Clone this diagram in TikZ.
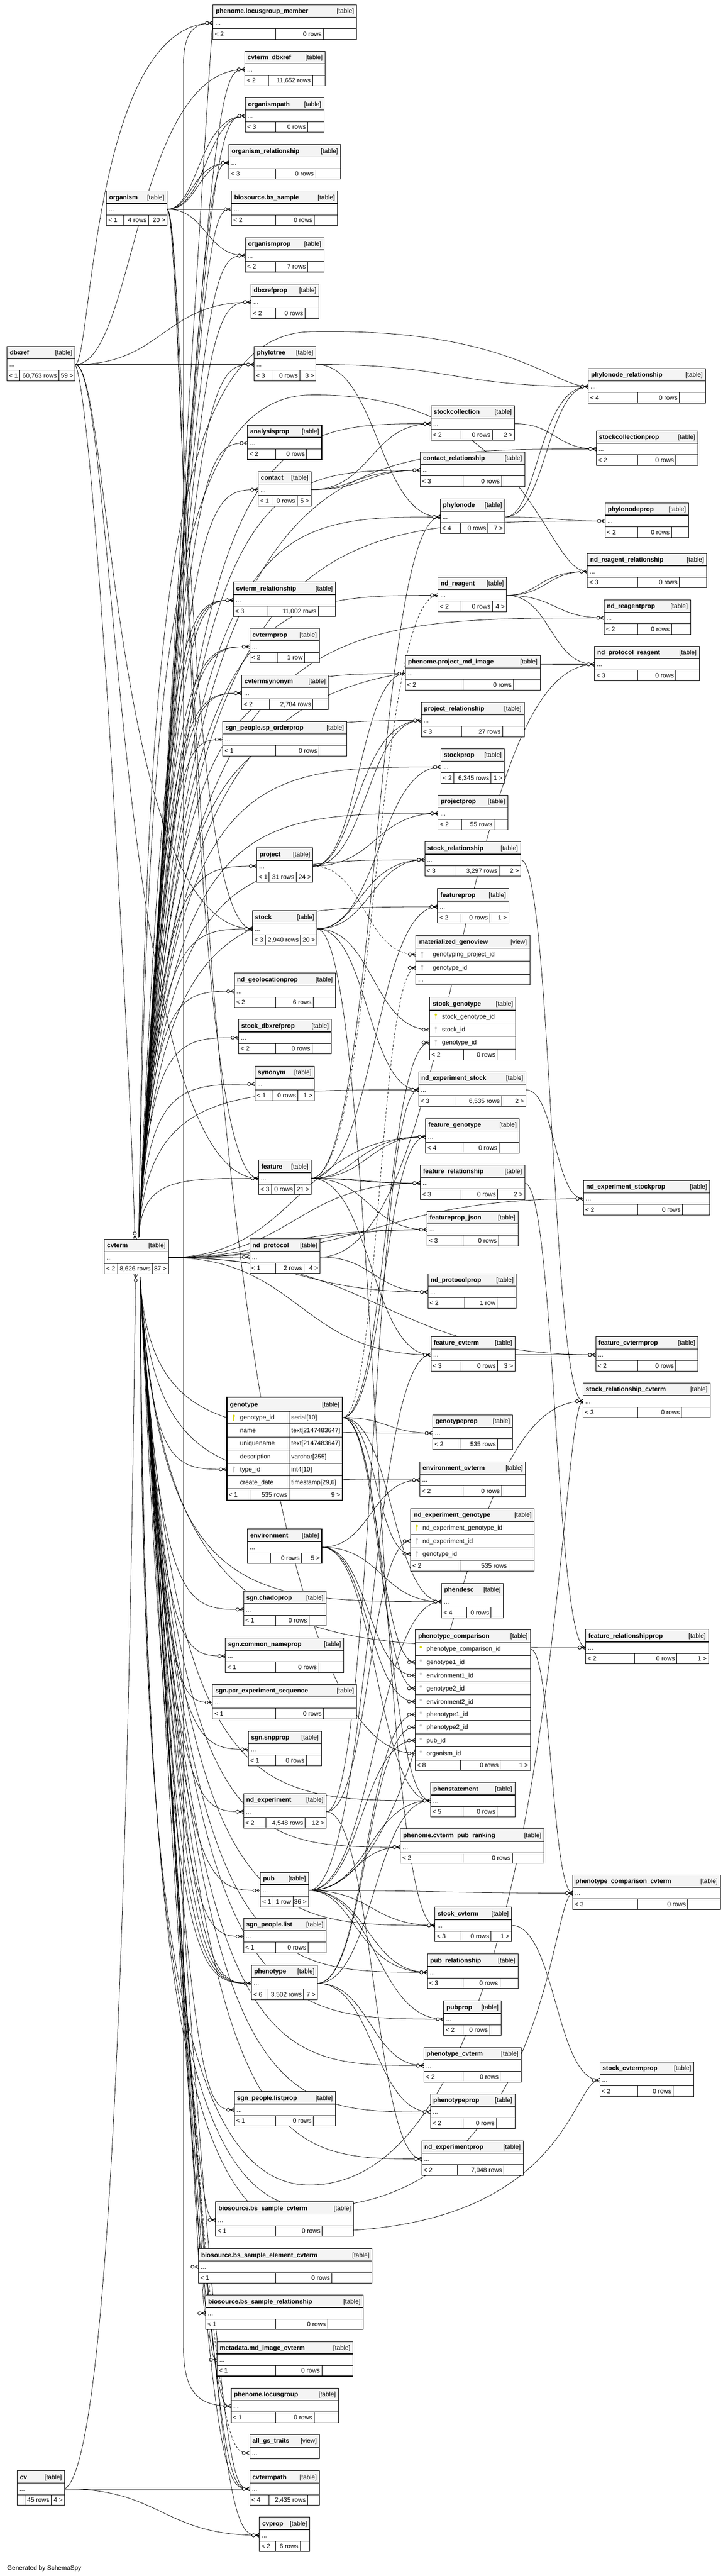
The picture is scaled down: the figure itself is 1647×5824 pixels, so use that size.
\documentclass[tikz,border=0pt]{standalone}
\usepackage{fontspec}
\setmainfont{Liberation Sans}
\usetikzlibrary{calc}
\pgfdeclarelayer{bgl}
\pgfdeclarelayer{edg}
\pgfsetlayers{bgl,edg,main}
\definecolor{hdrgray}{HTML}{F4F4F4}
\definecolor{pkey}{HTML}{D8D800}
\definecolor{fkey}{HTML}{C4C4C4}
\tikzset{
  fkline/.style={line width=0.9pt},
  fkdash/.style={line width=0.9pt,dash pattern=on 5pt off 4pt},
  mk/.style={line width=1pt},
  crowfoot/.pic={\draw[mk] (-18,0)--(0,0) (-9,0)--(0,-4.5) (-9,0)--(0,4.5); \draw[mk,fill=white] (-13.5,0) circle (3.6);},
  tbox/.style={fill=white,inner sep=0pt,outer sep=0pt},
  ttl/.style={font=\bfseries\fontsize{14.3}{16}\selectfont,inner sep=0pt},
  txt/.style={font=\fontsize{14.3}{16}\selectfont,inner sep=0pt},
  hline/.style={line width=1.6pt},
  rline/.style={line width=1pt},
  bline/.style={line width=1.2pt},
}
\newcommand\tbl[6]{%
  \def\tid{#1}\def\tx{#2}\def\ty{#3}\def\tw{#4}%
  \node[tbox,minimum width=#4pt,minimum height=78pt,anchor=north west] (#1) at (#2,#3) {};
  \fill[hdrgray] (#2,#3) rectangle ++(#4,28);
  \draw[hline] (#2,#3+28) -- ++(#4,0);
  \draw[rline] (#2,#3+54) -- ++(#4,0);
  \draw[bline] (#2,#3) rectangle ++(#4,78);
  \node[ttl,anchor=base west] (#1-t) at (#2+6,#3+19) {#5};
  \node[txt,anchor=base east] (#1-k) at (#2+#4-6,#3+19) {[#6]};
  \node[txt,anchor=base west] (#1-d) at (#2+5,#3+46) {...};
  \coordinate (#1-in) at (#2,#3+41);
  \coordinate (#1-out) at (#2+#4,#3+41);
}
\newcommand\foot[5]{%
  \draw[rline] (#4,\ty+54) -- (#4,\ty+78);
  \draw[rline] (#5,\ty+54) -- (#5,\ty+78);
  \node[txt,anchor=base west] (\tid-fl) at (\tx+4,\ty+71) {#1};
  \node[txt,anchor=base east] (\tid-fm) at (#5-4,\ty+71) {#2};
  \node[txt,anchor=base east] (\tid-fr) at (\tx+\tw-4,\ty+71) {#3};
}
\newcommand\key[3]{\fill[#3] (#1,#2-4) circle (2.6); \draw[#3,line width=1.7pt] (#1,#2-2) -- (#1,#2+7);}
\newcommand\fk[3][0.5]{\draw[fkline] (#2) .. controls ($(#2)!#1!(#3 |- #2)$) and ($(#2 |- #3)!#1!(#3)$) .. (#3); \pic at (#3) {crowfoot};}
\newcommand\fkd[3][0.5]{\draw[fkdash] (#2) .. controls ($(#2)!#1!(#3 |- #2)$) and ($(#2 |- #3)!#1!(#3)$) .. (#3); \pic at (#3) {crowfoot};}
\newcommand\fkn[2]{\coordinate (fkq) at ($(cvt-n |- #1)+(#2,0)$); \draw[fkline] (cvt-n) .. controls (fkq) and ($(fkq)!0.3!(#1)$) .. (#1); \pic at (#1) {crowfoot};}
\newcommand\fks[2]{\coordinate (fkq) at ($(cvt-s |- #1)+(#2,0)$); \draw[fkline] (cvt-s) .. controls (fkq) and ($(fkq)!0.3!(#1)$) .. (#1); \pic at (#1) {crowfoot};}
\newcommand\fksd[2]{\coordinate (fkq) at ($(cvt-s |- #1)+(#2,0)$); \draw[fkdash] (cvt-s) .. controls (fkq) and ($(fkq)!0.3!(#1)$) .. (#1); \pic at (#1) {crowfoot};}
\begin{document}
\begin{tikzpicture}[x=1pt,y=-1pt]
\begin{pgfonlayer}{bgl}
\fill[white] (0,0) rectangle (1647,5824);
\end{pgfonlayer}
\useasboundingbox (0,0) rectangle (1647,5824);

\tbl{plm}{482}{11}{325}{phenome.locusgroup\_member}{table}\foot{< 2}{0 rows}{}{624}{732}
\tbl{cvdbx}{554}{116}{182}{cvterm\_dbxref}{table}\foot{< 2}{11,652 rows}{}{607}{707}
\tbl{opath}{555}{221}{178}{organismpath}{table}\foot{< 3}{0 rows}{}{624}{696}
\tbl{orel}{518}{327}{253}{organism\_relationship}{table}\foot{< 3}{0 rows}{}{624}{714}
\tbl{org}{241}{432}{137}{organism}{table}\foot{< 1}{4 rows}{20 >}{279}{336}
\tbl{bss}{524}{432}{240}{biosource.bs\_sample}{table}\foot{< 2}{0 rows}{}{624}{711}
\tbl{oprop}{555}{537}{178}{organismprop}{table}\foot{< 2}{7 rows}{}{624}{696}
\tbl{dbxp}{568}{642}{154}{dbxrefprop}{table}\foot{< 2}{0 rows}{}{624}{690}
\tbl{dbx}{16}{783}{154}{dbxref}{table}\foot{< 1}{60,763 rows}{59 >}{45}{133}
\tbl{ptree}{575}{783}{140}{phylotree}{table}\foot{< 3}{0 rows}{3 >}{618}{678}
\tbl{pnrel}{1331}{833}{265}{phylonode\_relationship}{table}\foot{< 4}{0 rows}{}{1443}{1537}
\tbl{scol}{975}{917}{189}{stockcollection}{table}\foot{< 2}{0 rows}{2 >}{1043}{1114}
\tbl{anp}{560}{961}{168}{analysisprop}{table}\foot{< 2}{0 rows}{}{624}{694}
\tbl{scolp}{1349}{974}{230}{stockcollectionprop}{table}\foot{< 2}{0 rows}{}{1443}{1529}
\tbl{crel}{951}{1022}{236}{contact\_relationship}{table}\foot{< 3}{0 rows}{}{1048}{1135}
\tbl{cont}{584}{1066}{120}{contact}{table}\foot{< 1}{0 rows}{5 >}{618}{672}
\tbl{pnode}{996}{1128}{146}{phylonode}{table}\foot{< 4}{0 rows}{7 >}{1042}{1104}
\tbl{pnp}{1369}{1137}{189}{phylonodeprop}{table}\foot{< 2}{0 rows}{}{1443}{1519}
\tbl{nrrel}{1329}{1251}{270}{nd\_reagent\_relationship}{table}\foot{< 3}{0 rows}{}{1443}{1537}
\tbl{nrea}{991}{1305}{155}{nd\_reagent}{table}\foot{< 2}{0 rows}{4 >}{1043}{1114}
\tbl{cvrel}{528}{1316}{231}{cvterm\_relationship}{table}\foot{< 3}{11,002 rows}{}{606}{720}
\tbl{nrp}{1367}{1356}{195}{nd\_reagentprop}{table}\foot{< 2}{0 rows}{}{1443}{1519}
\tbl{cvp}{565}{1421}{158}{cvtermprop}{table}\foot{< 2}{1 row}{}{627}{689}
\tbl{npr}{1345}{1461}{237}{nd\_protocol\_reagent}{table}\foot{< 3}{0 rows}{}{1443}{1529}
\tbl{pmi}{917}{1482}{305}{phenome.project\_md\_image}{table}\foot{< 2}{0 rows}{}{1048}{1162}
\tbl{cvsyn}{547}{1526}{196}{cvtermsynonym}{table}\foot{< 2}{2,784 rows}{}{610}{708}
\tbl{prel}{953}{1588}{233}{project\_relationship}{table}\foot{< 3}{27 rows}{}{1044}{1137}
\tbl{spo}{504}{1631}{280}{sgn\_people.sp\_orderprop}{table}\foot{< 1}{0 rows}{}{624}{722}
\tbl{stp}{998}{1693}{143}{stockprop}{table}\foot{< 2}{6,345 rows}{1 >}{1027}{1111}
\tbl{pjp}{991}{1798}{158}{projectprop}{table}\foot{< 2}{55 rows}{}{1044}{1118}
\tbl{strel}{961}{1903}{217}{stock\_relationship}{table}\foot{< 3}{3,297 rows}{2 >}{1029}{1129}
\tbl{proj}{581}{1917}{127}{project}{table}\foot{< 1}{31 rows}{24 >}{609}{670}
\tbl{fp}{990}{2009}{161}{featureprop}{table}\foot{< 2}{0 rows}{1 >}{1043}{1108}
\tbl{stock}{571}{2059}{146}{stock}{table}\foot{< 3}{2,940 rows}{20 >}{600}{680}
\tbl{ngp}{530}{2200}{229}{nd\_geolocationprop}{table}\foot{< 2}{6 rows}{}{624}{709}
\tbl{sdp}{540}{2305}{210}{stock\_dbxrefprop}{table}\foot{< 2}{0 rows}{}{624}{706}
\tbl{syn}{577}{2410}{134}{synonym}{table}\foot{< 1}{0 rows}{1 >}{616}{674}
\tbl{nes}{947}{2423}{243}{nd\_experiment\_stock}{table}\foot{< 3}{6,535 rows}{2 >}{1029}{1135}
\tbl{fg}{963}{2529}{212}{feature\_genotype}{table}\foot{< 4}{0 rows}{}{1048}{1129}
\tbl{feat}{585}{2623}{119}{feature}{table}\foot{< 3}{0 rows}{21 >}{614}{667}
\tbl{frel}{951}{2634}{236}{feature\_relationship}{table}\foot{< 3}{0 rows}{2 >}{1043}{1126}
\tbl{nesp}{1320}{2669}{286}{nd\_experiment\_stockprop}{table}\foot{< 2}{0 rows}{}{1443}{1544}
\tbl{fpj}{966}{2739}{206}{featureprop\_json}{table}\foot{< 3}{0 rows}{}{1048}{1128}
\tbl{cvt}{236}{2802}{145}{cvterm}{table}\foot{< 2}{8,626 rows}{87 >}{266}{345}
\tbl{nprot}{565}{2801}{159}{nd\_protocol}{table}\foot{< 1}{2 rows}{4 >}{624}{688}
\tbl{npp}{968}{2880}{200}{nd\_protocolprop}{table}\foot{< 2}{1 row}{}{1051}{1125}
\tbl{fcv}{975}{3022}{190}{feature\_cvterm}{table}\foot{< 3}{0 rows}{3 >}{1043}{1126}
\tbl{fcvp}{1348}{3022}{231}{feature\_cvtermprop}{table}\foot{< 2}{0 rows}{}{1443}{1529}
\tbl{srcv}{1319}{3127}{288}{stock\_relationship\_cvterm}{table}\foot{< 3}{0 rows}{}{1443}{1542}
\tbl{gp}{979}{3199}{181}{genotypeprop}{table}\foot{< 2}{535 rows}{}{1041}{1126}
\tbl{envcv}{950}{3305}{239}{environment\_cvterm}{table}\foot{< 2}{0 rows}{}{1048}{1135}
\tbl{env}{560}{3457}{168}{environment}{table}\foot{}{0 rows}{5 >}{612}{682}
\tbl{pdesc}{999}{3580}{140}{phendesc}{table}\foot{< 4}{0 rows}{}{1056}{1111}
\tbl{scp}{551}{3598}{187}{sgn.chadoprop}{table}\foot{< 1}{0 rows}{}{624}{699}
\tbl{frp}{1325}{3684}{278}{feature\_relationshipprop}{table}\foot{< 2}{0 rows}{1 >}{1436}{1531}
\tbl{scnp}{510}{3703}{268}{sgn.common\_nameprop}{table}\foot{< 1}{0 rows}{}{624}{721}
\tbl{spcr}{481}{3808}{326}{sgn.pcr\_experiment\_sequence}{table}\foot{< 1}{0 rows}{}{624}{732}
\tbl{ssnp}{562}{3914}{165}{sgn.snpprop}{table}\foot{< 1}{0 rows}{}{624}{693}
\tbl{pst}{974}{4030}{191}{phenstatement}{table}\foot{< 5}{0 rows}{}{1048}{1125}
\tbl{nexp}{551}{4055}{187}{nd\_experiment}{table}\foot{< 2}{4,548 rows}{12 >}{601}{690}
\tbl{pcpr}{906}{4135}{325}{phenome.cvterm\_pub\_ranking}{table}\foot{< 2}{0 rows}{}{1048}{1159}
\tbl{pub}{589}{4233}{109}{pub}{table}\foot{< 1}{1 row}{36 >}{618}{663}
\tbl{pccv}{1296}{4239}{334}{phenotype\_comparison\_cvterm}{table}\foot{< 3}{0 rows}{}{1443}{1556}
\tbl{stcv}{984}{4312}{173}{stock\_cvterm}{table}\foot{< 3}{0 rows}{1 >}{1043}{1111}
\tbl{spl}{551}{4337}{187}{sgn\_people.list}{table}\foot{< 1}{0 rows}{}{624}{697}
\tbl{pubrel}{967}{4418}{205}{pub\_relationship}{table}\foot{< 3}{0 rows}{}{1048}{1131}
\tbl{ptype}{569}{4443}{149}{phenotype}{table}\foot{< 6}{3,502 rows}{7 >}{604}{687}
\tbl{pubp}{1004}{4524}{130}{pubprop}{table}\foot{< 2}{0 rows}{}{1048}{1108}
\tbl{ptcv}{959}{4629}{220}{phenotype\_cvterm}{table}\foot{< 2}{0 rows}{}{1048}{1132}
\tbl{stcvp}{1357}{4662}{213}{stock\_cvtermprop}{table}\foot{< 2}{0 rows}{}{1443}{1523}
\tbl{splp}{530}{4729}{229}{sgn\_people.listprop}{table}\foot{< 1}{0 rows}{}{624}{709}
\tbl{ptp}{974}{4734}{191}{phenotypeprop}{table}\foot{< 2}{0 rows}{}{1048}{1123}
\tbl{nexpp}{954}{4840}{230}{nd\_experimentprop}{table}\foot{< 2}{7,048 rows}{}{1035}{1140}
\tbl{bsscv}{488}{4978}{312}{biosource.bs\_sample\_cvterm}{table}\foot{< 1}{0 rows}{}{624}{729}
\tbl{bsecv}{449}{5084}{393}{biosource.bs\_sample\_element\_cvterm}{table}\foot{< 1}{0 rows}{}{624}{751}
\tbl{bsrel}{465}{5189}{357}{biosource.bs\_sample\_relationship}{table}\foot{< 1}{0 rows}{}{624}{741}
\tbl{mdcv}{491}{5294}{308}{metadata.md\_image\_cvterm}{table}\foot{< 1}{0 rows}{}{624}{728}
\tbl{plg}{523}{5399}{243}{phenome.locusgroup}{table}\foot{< 1}{0 rows}{}{624}{711}
\tbl{cv}{39}{5586}{107}{cv}{table}\foot{}{45 rows}{4 >}{56}{116}
\tbl{cvpath}{565}{5586}{158}{cvtermpath}{table}\foot{< 4}{2,435 rows}{}{609}{696}
\tbl{cvpr}{587}{5691}{114}{cvprop}{table}\foot{< 2}{6 rows}{}{624}{679}

% all_gs_traits (view)
\node[tbox,minimum width=158pt,minimum height=55pt,anchor=north west] (ags) at (565,5504) {};
\fill[hdrgray] (565,5504) rectangle ++(158,29);
\draw[hline] (565,5533) -- ++(158,0);
\draw[bline] (565,5504) rectangle ++(158,55);
\node[ttl,anchor=base west] (ags-t) at (571,5523) {all\_gs\_traits};
\node[txt,anchor=base east] (ags-k) at (717,5523) {[view]};
\node[txt,anchor=base west] (ags-d) at (570,5551) {...};
\coordinate (ags-in) at (565,5546);

% materialized_genoview (view)
\node[tbox,minimum width=258pt,minimum height=112pt,anchor=north west] (mgv) at (941,2115) {};
\fill[hdrgray] (941,2115) rectangle ++(258,29);
\draw[hline] (941,2144) -- ++(258,0);
\draw[rline] (941,2173) -- ++(258,0) (941,2203) -- ++(258,0);
\draw[bline] (941,2115) rectangle ++(258,112);
\node[ttl,anchor=base west] (mgv-t) at (948,2134) {materialized\_genoview};
\node[txt,anchor=base east] (mgv-k) at (1192,2134) {[view]};
\key{955}{2158}{fkey}\node[txt,anchor=base west] (mgv-c1) at (979,2163) {genotyping\_project\_id};
\key{955}{2188}{fkey}\node[txt,anchor=base west] (mgv-c2) at (979,2193) {genotype\_id};
\node[txt,anchor=base west] (mgv-d) at (946,2220) {...};
\coordinate (mgv-r1) at (941,2158); \coordinate (mgv-r2) at (941,2188);

% stock_genotype
\node[tbox,minimum width=195pt,minimum height=142pt,anchor=north west] (sgt) at (972,2254) {};
\fill[hdrgray] (972,2254) rectangle ++(195,30);
\draw[hline] (972,2284) -- ++(195,0);
\draw[rline] (972,2313) -- ++(195,0) (972,2343) -- ++(195,0) (972,2372) -- ++(195,0);
\draw[rline] (1049,2372) -- (1049,2396) (1125,2372) -- (1125,2396);
\draw[bline] (972,2254) rectangle ++(195,142);
\node[ttl,anchor=base west] (sgt-t) at (979,2274) {stock\_genotype};
\node[txt,anchor=base east] (sgt-k) at (1161,2274) {[table]};
\key{986}{2298}{pkey}\node[txt,anchor=base west] (sgt-c1) at (1000,2303) {stock\_genotype\_id};
\key{986}{2328}{fkey}\node[txt,anchor=base west] (sgt-c2) at (1000,2333) {stock\_id};
\key{986}{2357}{fkey}\node[txt,anchor=base west] (sgt-c3) at (1000,2362) {genotype\_id};
\node[txt,anchor=base west] (sgt-fl) at (976,2389) {< 2};
\node[txt,anchor=base east] (sgt-fm) at (1121,2389) {0 rows};
\coordinate (sgt-r2) at (972,2328); \coordinate (sgt-r3) at (972,2357);

% genotype
\node[tbox,minimum width=262pt,minimum height=233pt,anchor=north west] (geno) at (513,3159) {};
\fill[hdrgray] (513,3159) rectangle ++(262,32);
\draw[hline] (513,3191) -- ++(262,0);
\foreach \yy in {3219,3249,3278,3308,3337,3366} {\draw[rline] (513,\yy) -- ++(262,0);}
\draw[rline] (654,3191) -- (654,3392) (565,3366) -- (565,3392);
\draw[line width=2.6pt] (513,3159) rectangle ++(262,233);
\node[ttl,anchor=base west] (geno-t) at (520,3180) {genotype};
\node[txt,anchor=base east] (geno-k) at (768,3180) {[table]};
\key{529}{3205}{pkey}
\node[txt,anchor=base west] (geno-c1) at (543,3210) {genotype\_id};
\node[txt,anchor=base west] (geno-y1) at (659,3210) {serial[10]};
\node[txt,anchor=base west] (geno-c2) at (543,3239) {name};
\node[txt,anchor=base west] (geno-y2) at (659,3239) {text[2147483647]};
\node[txt,anchor=base west] (geno-c3) at (543,3268) {uniquename};
\node[txt,anchor=base west] (geno-y3) at (659,3268) {text[2147483647]};
\node[txt,anchor=base west] (geno-c4) at (543,3298) {description};
\node[txt,anchor=base west] (geno-y4) at (659,3298) {varchar[255]};
\key{529}{3322}{fkey}
\node[txt,anchor=base west] (geno-c5) at (543,3327) {type\_id};
\node[txt,anchor=base west] (geno-y5) at (659,3327) {int4[10]};
\node[txt,anchor=base west] (geno-c6) at (543,3356) {create\_date};
\node[txt,anchor=base west] (geno-y6) at (659,3356) {timestamp[29,6]};
\node[txt,anchor=base west] (geno-fl) at (517,3384) {< 1};
\node[txt,anchor=base east] (geno-fm) at (650,3384) {535 rows};
\node[txt,anchor=base east] (geno-fr) at (770,3384) {9 >};
\coordinate (geno-out) at (775,3205); \coordinate (geno-tin) at (513,3322);

% nd_experiment_genotype
\node[tbox,minimum width=280pt,minimum height=141pt,anchor=north west] (neg) at (929,3411) {};
\fill[hdrgray] (929,3411) rectangle ++(280,29);
\draw[hline] (929,3440) -- ++(280,0);
\draw[rline] (929,3469) -- ++(280,0) (929,3499) -- ++(280,0) (929,3528) -- ++(280,0);
\draw[rline] (1041,3528) -- (1041,3552) (1151,3528) -- (1151,3552);
\draw[bline] (929,3411) rectangle ++(280,141);
\node[ttl,anchor=base west] (neg-t) at (936,3430) {nd\_experiment\_genotype};
\node[txt,anchor=base east] (neg-k) at (1203,3430) {[table]};
\key{943}{3454}{pkey}\node[txt,anchor=base west] (neg-c1) at (956,3459) {nd\_experiment\_genotype\_id};
\key{943}{3484}{fkey}\node[txt,anchor=base west] (neg-c2) at (956,3489) {nd\_experiment\_id};
\key{943}{3513}{fkey}\node[txt,anchor=base west] (neg-c3) at (956,3518) {genotype\_id};
\node[txt,anchor=base west] (neg-fl) at (933,3545) {< 2};
\node[txt,anchor=base east] (neg-fm) at (1147,3545) {535 rows};
\coordinate (neg-r2) at (929,3484); \coordinate (neg-r3) at (929,3513);

% phenotype_comparison
\node[tbox,minimum width=261pt,minimum height=318pt,anchor=north west] (pcmp) at (939,3685) {};
\fill[hdrgray] (939,3685) rectangle ++(261,29);
\draw[hline] (939,3714) -- ++(261,0);
\foreach \yy in {3743,3773,3802,3832,3861,3890,3920,3949,3979} {\draw[rline] (939,\yy) -- ++(261,0);}
\draw[rline] (1042,3979) -- (1042,4003) (1132,3979) -- (1132,4003);
\draw[bline] (939,3685) rectangle ++(261,318);
\node[ttl,anchor=base west] (pcmp-t) at (946,3704) {phenotype\_comparison};
\node[txt,anchor=base east] (pcmp-k) at (1194,3704) {[table]};
\key{952}{3728}{pkey}\node[txt,anchor=base west] (pcmp-c1) at (965,3733) {phenotype\_comparison\_id};
\key{952}{3758}{fkey}\node[txt,anchor=base west] (pcmp-c2) at (965,3763) {genotype1\_id};
\key{952}{3788}{fkey}\node[txt,anchor=base west] (pcmp-c3) at (965,3793) {environment1\_id};
\key{952}{3817}{fkey}\node[txt,anchor=base west] (pcmp-c4) at (965,3822) {genotype2\_id};
\key{952}{3847}{fkey}\node[txt,anchor=base west] (pcmp-c5) at (965,3852) {environment2\_id};
\key{952}{3876}{fkey}\node[txt,anchor=base west] (pcmp-c6) at (965,3881) {phenotype1\_id};
\key{952}{3905}{fkey}\node[txt,anchor=base west] (pcmp-c7) at (965,3910) {phenotype2\_id};
\key{952}{3935}{fkey}\node[txt,anchor=base west] (pcmp-c8) at (965,3940) {pub\_id};
\key{952}{3964}{fkey}\node[txt,anchor=base west] (pcmp-c9) at (965,3969) {organism\_id};
\node[txt,anchor=base west] (pcmp-fl) at (943,3996) {< 8};
\node[txt,anchor=base east] (pcmp-fm) at (1128,3996) {0 rows};
\node[txt,anchor=base east] (pcmp-fr) at (1195,3996) {1 >};
\coordinate (pcmp-out) at (1200,3728);
\coordinate (pcmp-g1) at (939,3758); \coordinate (pcmp-e1) at (939,3788);
\coordinate (pcmp-g2) at (939,3817); \coordinate (pcmp-e2) at (939,3847);
\coordinate (pcmp-p1) at (939,3876); \coordinate (pcmp-p2) at (939,3905);
\coordinate (pcmp-pub) at (939,3935); \coordinate (pcmp-org) at (939,3964);

\node[txt,anchor=base west] (gen) at (16,5810) {Generated by SchemaSpy};

\coordinate (cvt-n) at (314,2797);
\coordinate (cvt-s) at (317,2887);
\coordinate (cvt-top) at (305,2802);
\coordinate (cvt-bot) at (307,2881);

\begin{pgfonlayer}{edg}
% dbxref
\fk[0.12]{dbx-out}{plm-in}
\fk[0.35]{dbx-out}{cvdbx-in}
\fk{dbx-out}{dbxp-in}
\fk{dbx-out}{ptree-in}
\fk[0.2]{dbx-out}{stock-in}
\fk[0.22]{dbx-out}{feat-in}
\draw[fkline] (dbx-out) .. controls (215,900) and (300,2500) .. (cvt-top); \pic[rotate=-90] at (cvt-top) {crowfoot};
% organism
\fk{org-out}{opath-in}
\fk[0.4]{org-out}{opath-in}
\fk{org-out}{orel-in}
\fk[0.4]{org-out}{orel-in}
\fk{org-out}{bss-in}
\fk{org-out}{oprop-in}
\fk[0.2]{org-out}{stock-in}
\fk[0.2]{org-out}{feat-in}
\fk[0.08]{org-out}{pcmp-org}
% cvterm upward
\fkn{plm-in}{165}
\fkn{cvdbx-in}{159}
\fkn{opath-in}{152}
\fkn{orel-in}{146}
\fkn{bss-in}{142}
\fkn{oprop-in}{133}
\fkn{dbxp-in}{127}
\fkn{ptree-in}{119}
\draw[fkline] (cvt-n) .. controls (330,1400) and (390,760) .. (700,750) .. controls (1150,740) and (1250,874) .. (pnrel-in); \pic at (pnrel-in) {crowfoot};
\fkn{scol-in}{111}
\fkn{anp-in}{108}
\fkn{scolp-in}{107}
\fkn{crel-in}{104}
\fkn{cont-in}{102}
\fkn{pnode-in}{98}
\fkn{pnp-in}{97}
\draw[fkline] (cvt-n) .. controls (335,1500) and (395,900) .. (700,893) .. controls (1200,885) and (1230,1292) .. (nrrel-in); \pic at (nrrel-in) {crowfoot};
\fkn{nrea-in}{87}
\fkn{cvrel-in}{87}
\fkn{cvrel-in}{75}
\fkn{cvrel-in}{63}
\fkn{nrp-in}{84}
\fkn{cvp-in}{80}
\fkn{cvp-in}{68}
\fkn{npr-in}{78}
\fkn{pmi-in}{77}
\fkn{cvsyn-in}{74}
\fkn{cvsyn-in}{62}
\fkn{prel-in}{70}
\fkn{spo-in}{68}
\fkn{stp-in}{64}
\fkn{pjp-in}{58}
\fkn{strel-in}{51}
\fkn{proj-in}{50}
\fkn{fp-in}{45}
\fkn{stock-in}{42}
\fkn{ngp-in}{34}
\fkn{sdp-in}{27}
\fkn{syn-in}{21}
\fkn{nes-in}{20}
\fkn{feat-in}{8}
% cvterm sideways
\fk{cvt-out}{nprot-in}
\fk{cvt-out}{fg-in}
\fk{cvt-out}{frel-in}
\fk{cvt-out}{nesp-in}
\fk{cvt-out}{fpj-in}
\fk[0.4]{cvt-out}{fpj-in}
\fk{cvt-out}{npp-in}
\fk{cvt-out}{fcv-in}
\fk{cvt-out}{fcvp-in}
% cvterm downward
\draw[fkline] (cvt-s) .. controls (320,4100) and (370,4940) .. (700,4940) .. controls (1262,4940) and (1262,3168) .. (srcv-in); \pic at (srcv-in) {crowfoot};
\fks{geno-tin}{26}
\fks{gp-in}{22}
\fks{envcv-in}{28}
\fks{pdesc-in}{44}
\fks{scp-in}{45}
\fks{frp-in}{51}
\fks{scnp-in}{52}
\fks{spcr-in}{58}
\fks{ssnp-in}{64}
\fks{pst-in}{71}
\fks{nexp-in}{73}
\fks{pcpr-in}{78}
\fks{pub-in}{84}
\draw[fkline] (cvt-s) .. controls (325,4200) and (380,4990) .. (700,4990) .. controls (1245,4990) and (1245,4280) .. (pccv-in); \pic at (pccv-in) {crowfoot};
\fks{stcv-in}{88}
\fks{spl-in}{90}
\fks{pubrel-in}{95}
\fks{ptype-in}{96}
\fks{ptype-in}{84}
\fks{ptype-in}{108}
\fks{ptype-in}{72}
\fks{pubp-in}{101}
\fks{ptcv-in}{107}
\draw[fkline] (cvt-s) .. controls (330,4300) and (390,5040) .. (700,5045) .. controls (1290,5050) and (1290,4703) .. (stcvp-in); \pic at (stcvp-in) {crowfoot};
\fks{splp-in}{113}
\fks{ptp-in}{114}
\fks{nexpp-in}{120}
\fks{bsscv-in}{128}
\fks{bsecv-in}{135}
\fks{bsrel-in}{141}
\fks{mdcv-in}{147}
\fks{plg-in}{154}
\fksd{ags-in}{160}
\fks{cvpath-in}{165}
\fks{cvpath-in}{150}
\fks{cvpath-in}{180}
\fks{cvpr-in}{171}
% other parents
\fk{ptree-out}{pnode-in}
\fk{ptree-out}{pnrel-in}
\fk{pnode-out}{pnrel-in}
\fk[0.4]{pnode-out}{pnrel-in}
\fk{pnode-out}{pnp-in}
\fk{cont-out}{scol-in}
\fk{cont-out}{crel-in}
\fk[0.4]{cont-out}{crel-in}
\fk{scol-out}{scolp-in}
\fk{feat-out}{pnode-in}
\fkd{feat-out}{nrea-in}
\fk{feat-out}{fp-in}
\fk{feat-out}{fg-in}
\fk[0.4]{feat-out}{fg-in}
\fk{feat-out}{frel-in}
\fk[0.4]{feat-out}{frel-in}
\fk{feat-out}{fpj-in}
\fk{feat-out}{fcv-in}
\fk{nrea-out}{nrrel-in}
\fk[0.4]{nrea-out}{nrrel-in}
\fk{nrea-out}{nrp-in}
\fk{nrea-out}{npr-in}
\fk{nprot-out}{npr-in}
\fk{nprot-out}{npp-in}
\fk{proj-out}{pmi-in}
\fk{proj-out}{prel-in}
\fk[0.4]{proj-out}{prel-in}
\fk{proj-out}{pjp-in}
\fkd{proj-out}{mgv-r1}
\fk{stock-out}{stp-in}
\fk{stock-out}{strel-in}
\fk[0.4]{stock-out}{strel-in}
\fk{stock-out}{sgt-r2}
\fk{stock-out}{nes-in}
\fk{stock-out}{stcv-in}
\fk{strel-out}{srcv-in}
\fk{nes-out}{nesp-in}
\fk{frel-out}{frp-in}
\fk{fcv-out}{fcvp-in}
\fkd{geno-out}{mgv-r2}
\fk{geno-out}{sgt-r3}
\fk{geno-out}{fg-in}
\fk{geno-out}{gp-in}
\fk{geno-out}{neg-r3}
\fk{geno-out}{pdesc-in}
\fk{geno-out}{pcmp-g1}
\fk{geno-out}{pcmp-g2}
\fk{geno-out}{pst-in}
\fk{env-out}{envcv-in}
\fk{env-out}{pdesc-in}
\fk{env-out}{pcmp-e1}
\fk{env-out}{pcmp-e2}
\fk{env-out}{pst-in}
\fk{nexp-out}{nes-in}
\fk{nexp-out}{neg-r2}
\fk{nexp-out}{nexpp-in}
\fk{pub-out}{fcv-in}
\fk{pub-out}{srcv-in}
\fk{pub-out}{pdesc-in}
\fk{pub-out}{pcmp-pub}
\fk{pub-out}{pst-in}
\fk{pub-out}{pcpr-in}
\fk{pub-out}{pccv-in}
\fk{pub-out}{stcv-in}
\fk{pub-out}{pubrel-in}
\fk[0.4]{pub-out}{pubrel-in}
\fk{pub-out}{pubp-in}
\fk{ptype-out}{pcmp-p1}
\fk{ptype-out}{pcmp-p2}
\fk{ptype-out}{pst-in}
\fk{ptype-out}{ptcv-in}
\fk{ptype-out}{ptp-in}
\fk{pcmp-out}{pccv-in}
\fk{stcv-out}{stcvp-in}
\fk{cv-out}{cvpath-in}
\fk{cv-out}{cvpr-in}
\draw[fkline] (cv-out) .. controls (281,5560) and (300,3300) .. (cvt-bot); \pic[rotate=90] at (cvt-bot) {crowfoot};
\draw[fkline] (plg-in) .. controls (440,5440) and (415,5400) .. (415,5300) -- (415,150) .. controls (415,70) and (440,52) .. (plm-in); \pic at (plm-in) {crowfoot};
\end{pgfonlayer}
\end{tikzpicture}
\end{document}
